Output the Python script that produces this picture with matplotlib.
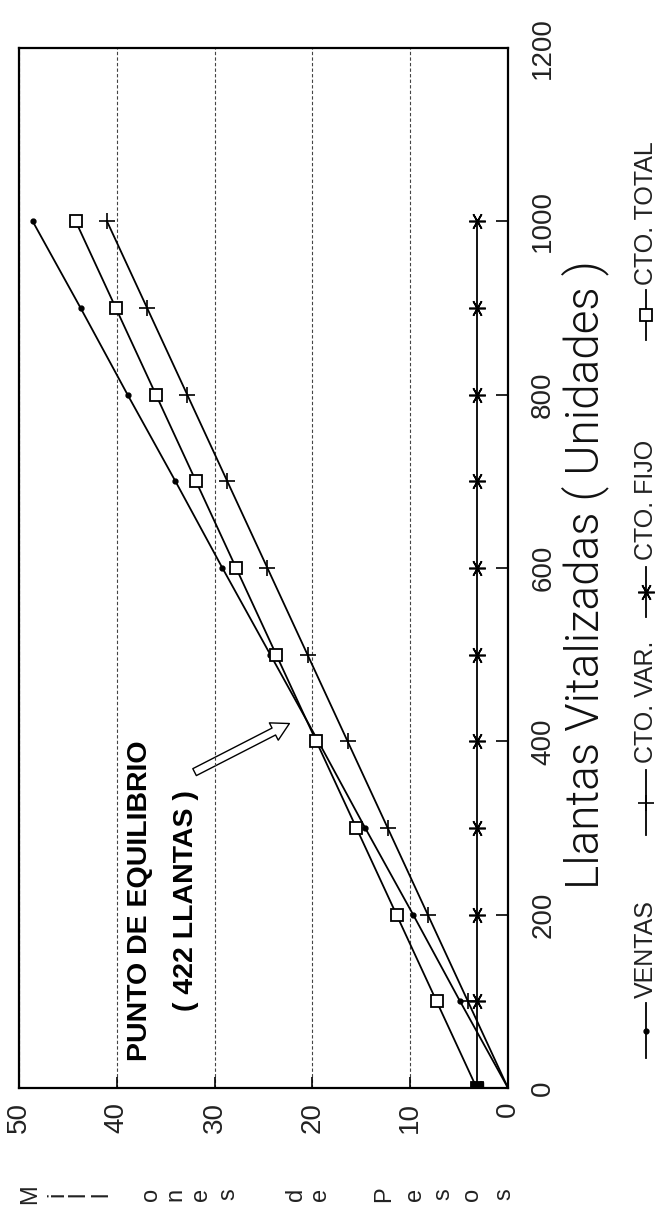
import matplotlib
matplotlib.use("Agg")
import matplotlib.pyplot as plt
from matplotlib.lines import Line2D
from matplotlib.patches import FancyArrowPatch

# datos (millones de pesos)
unidades = [0, 100, 200, 300, 400, 500, 600, 700, 800, 900, 1000]
ventas = [0.0, 4.9, 9.7, 14.6, 19.4, 24.3, 29.2, 34.0, 38.9, 43.7, 48.6]
cto_var = [0.0, 4.1, 8.2, 12.3, 16.4, 20.5, 24.6, 28.7, 32.8, 36.9, 41.0]
cto_fijo = [3.2, 3.2, 3.2, 3.2, 3.2, 3.2, 3.2, 3.2, 3.2, 3.2, 3.2]
cto_total = [3.2, 7.3, 11.4, 15.5, 19.6, 23.7, 27.8, 31.9, 36.0, 40.1, 44.2]

ticks_pesos = [0, 10, 20, 30, 40, 50]
ticks_unid = [0, 200, 400, 600, 800, 1000, 1200]
nombres = ["VENTAS", "CTO. VAR.", "CTO. FIJO", "CTO. TOTAL"]
punto_eq = 422

W, H = 667, 1211
FONT = "Liberation Sans"


def fx(px):
    return px / W


def fy(py):
    return 1 - py / H


fig = plt.figure(figsize=(W / 100, H / 100), dpi=100)
ax = fig.add_axes([fx(19), fy(1088), fx(508) - fx(19), fy(48) - fy(1088)])

# el grafico original esta girado 90 grados: pesos en horizontal, unidades en vertical
estilos = [
    dict(marker="o", ms=3.5, mfc="black"),
    dict(marker="+", ms=12, mew=1.2),
    dict(marker=(6, 2, 90), ms=12, mew=1.2),
    dict(marker="s", ms=9, mfc="white", mew=1.3),
]
series = [ventas, cto_var, cto_fijo, cto_total]
for vals, st in zip(series, estilos):
    ax.plot(vals, unidades, color="black", lw=1.3, **st)
# en el origen el asterisco y el cuadrado se funden en un cuadro negro
ax.plot(cto_total[0], unidades[0], "s", ms=9, color="black")

ax.set_xlim(50, 0)
ax.set_ylim(0, 1200)
ax.set_xticks(ticks_pesos)
ax.set_xticklabels([str(t) for t in ticks_pesos], rotation=90, fontsize=20,
                   fontfamily=FONT, color="#222222")
ax.set_yticks(ticks_unid)
ax.set_yticklabels([str(t) for t in ticks_unid], rotation=90, fontsize=20,
                   fontfamily=FONT, color="#222222", va="center")
ax.yaxis.tick_right()
ax.tick_params(axis="x", direction="in", length=8, width=1.2, pad=10)
ax.tick_params(axis="y", direction="in", length=9, width=1.2, pad=16)
ax.grid(axis="x", color="#444444", lw=0.8, ls=(0, (3, 2)))
for sp in ax.spines.values():
    sp.set_linewidth(1.6)

# anotacion punto de equilibrio
ax.text(37.6, 216, "PUNTO DE EQUILIBRIO", rotation=90, ha="center", va="center",
        fontsize=20.5, fontweight="bold", fontfamily=FONT)
ax.text(32.9, 216, f"( {punto_eq} LLANTAS )", rotation=90, ha="center", va="center",
        fontsize=20.5, fontweight="bold", fontfamily=FONT)
ax.add_patch(FancyArrowPatch((32.3, 363), (22.1, 422),
                             arrowstyle="simple,head_length=0.9,head_width=1.0,tail_width=0.4",
                             mutation_scale=14, fc="white", ec="black", lw=1.0))

# titulo del eje de unidades
fig.text(fx(585), fy(575), "Llantas Vitalizadas ( Unidades )", rotation=90,
         ha="center", va="center", fontsize=33, fontfamily="Roboto", fontweight=300,
         color="#111111")

# titulo del eje de pesos, letra por letra
letras = list("Millones") + list("de") + list("Pesos")
pos_letras = [30, 57, 78, 101, 151, 175, 201, 228, 296, 320, 384, 415, 443, 472, 504]
for ch, px in zip(letras, pos_letras):
    fig.text(fx(px), fy(1194), ch, rotation=90, ha="center", va="center",
             fontsize=17, fontfamily=FONT, color="#222222")

# leyenda dibujada a mano (girada)
ley_linea = [(1003, 1058), (770, 835), (567, 617), (290, 340)]
ley_texto = [998, 763, 560, 285]
for nom, st, (y0, y1), yt in zip(nombres, estilos, ley_linea, ley_texto):
    ym = (y0 + y1) / 2
    fig.add_artist(Line2D([fx(646)] * 3, [fy(y1), fy(ym), fy(y0)], color="black",
                          lw=1.3, markevery=[1], **st))
    fig.text(fx(646), fy(yt), nom, rotation=90, rotation_mode="anchor",
             ha="left", va="center", fontsize=18, fontfamily=FONT, color="#222222")

fig.savefig("out.png", dpi=100)
